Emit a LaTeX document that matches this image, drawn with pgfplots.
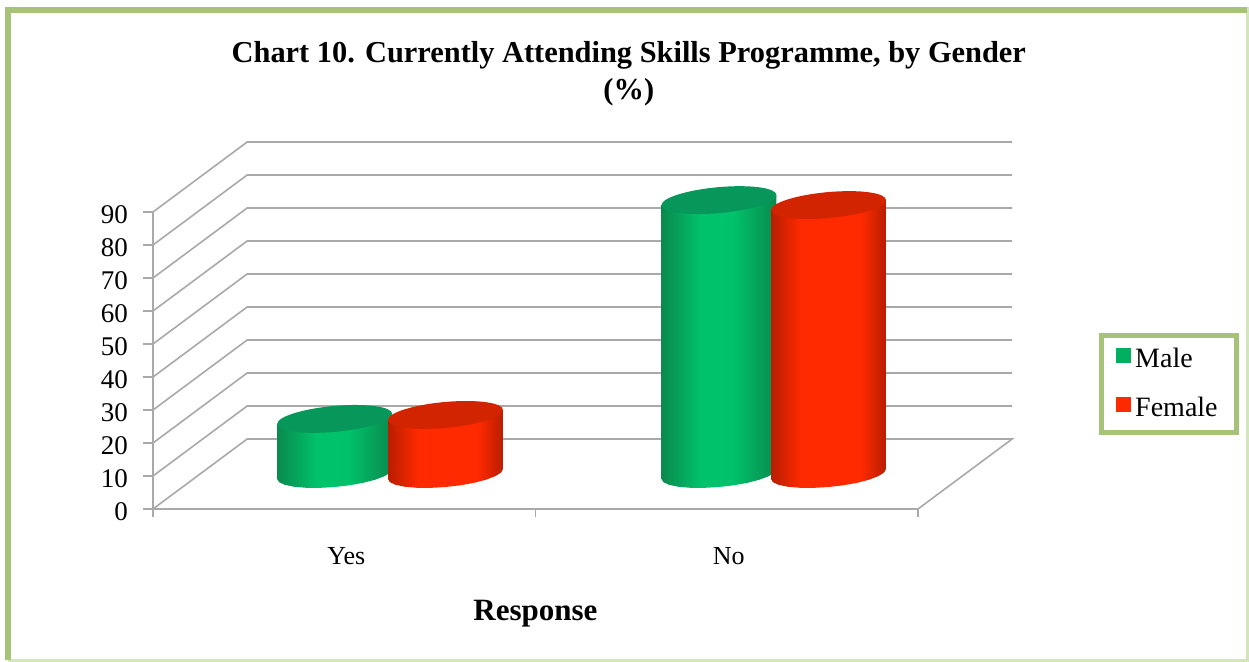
\documentclass[border=0pt]{standalone}
\usepackage{fontspec}
\setmainfont{Liberation Serif}
\usepackage{pgfplots}
\usepackage{pgfplotstable}
\pgfplotsset{compat=1.18}
\definecolor{frameG}{HTML}{A6C377}
\definecolor{frameL}{HTML}{D3E5BC}
\definecolor{gridG}{HTML}{A9A9A9}
\definecolor{gEdge}{HTML}{0A8A4E}
\definecolor{gMid}{HTML}{00C26A}
\definecolor{gTop}{HTML}{07975A}
\definecolor{rEdge}{HTML}{B81E00}
\definecolor{rMid}{HTML}{FF2A00}
\definecolor{rTop}{HTML}{D22400}
\pgfdeclarehorizontalshading{greencyl}{100bp}{color(0bp)=(gEdge);color(25bp)=(gEdge);color(42bp)=(gMid);color(56bp)=(gMid);color(75bp)=(gEdge);color(100bp)=(gEdge)}
\pgfdeclarehorizontalshading{redcyl}{100bp}{color(0bp)=(rEdge);color(25bp)=(rEdge);color(38bp)=(rMid);color(64bp)=(rMid);color(75bp)=(rEdge);color(100bp)=(rEdge)}
\newcommand{\cylell}{\pgfpathellipse{\pgfpointorigin}{\pgfqpoint{28.75pt}{2.5pt}}{\pgfqpoint{0pt}{6.5pt}}}
\pgfdeclareplotmark{gtop}{\cylell\pgfsetfillcolor{gTop}\pgfusepath{fill}}
\pgfdeclareplotmark{rtop}{\cylell\pgfsetfillcolor{rTop}\pgfusepath{fill}}
% outline of a cylinder body: h=1 rows rise with the bar's value
\pgfplotstableread{
dx dy h
-0.1503 -1.515 1
-0.1503 -1.515 0
-0.1452 -2.483 0
-0.1302 -3.282 0
-0.1063 -3.857 0
-0.0752 -4.170 0
-0.0389 -4.198 0
0 -3.940 0
0.0389 -3.414 0
0.0752 -2.654 0
0.1063 -1.715 0
0.1302 -0.658 0
0.1452 0.443 0
0.1503 1.515 0
0.1503 1.515 1
}\cylbody
\begin{document}
\begin{tikzpicture}
\useasboundingbox (0,0) rectangle (624.5pt,331pt);
\fill[white] (0,0) rectangle (624.5pt,331pt);
\draw[frameL,line width=1.2pt] (623.7pt,327.5pt) -- (623.7pt,0.8pt) -- (4pt,0.8pt);
\draw[frameG,line width=3pt] (4pt,0.8pt) -- (4pt,326pt) -- (623.7pt,326pt);
\begin{axis}[
  at={(76.5pt,76.5pt)}, anchor=south west,
  scale only axis, width=382.5pt, height=148.5pt,
  xmin=-0.5, xmax=1.5, ymin=0, ymax=90,
  clip=false,
  axis x line=bottom, axis y line=left,
  axis line style={-,gridG,line width=0.9pt},
  tick align=outside,
  xtick={0,1}, xticklabels={Yes,No},
  minor xtick={-0.5,0.5,1.5},
  ytick={0,10,...,90},
  major x tick style={draw=none},
  major tick length=5pt, minor tick length=4pt,
  every tick/.append style={gridG,line width=0.8pt},
  /pgf/number format/assume math mode=true,
  x tick label style={font=\fontsize{13}{15}\selectfont, yshift=-10.5pt, xshift=1pt},
  y tick label style={font=\fontsize{13.5}{15}\selectfont, xshift=-4pt, yshift=-1.5pt},
  xlabel={Response},
  xlabel style={font=\fontsize{15.5}{18}\selectfont\bfseries, at={(0.5,-0.352)}, anchor=center},
  title={Chart 10. Currently Attending Skills Programme, by Gender\\(\%)},
  title style={font=\fontsize{15.2}{18.5}\selectfont\bfseries, align=center, at={(0.622,1.426)}, anchor=center},
  legend cell align=left,
  legend style={at={(1.328,0.421)}, anchor=center, draw=frameG, line width=2.5pt,
    font=\fontsize{14}{16}\selectfont, inner xsep=7.5pt, inner ysep=4.5pt, row sep=9pt, fill=white,
    nodes={yshift=-2pt}},
  legend image code/.code={\fill[#1,draw=none] (0pt,-3.75pt) rectangle (7.5pt,3.75pt);},
]
% back wall and side wall grid lines
\addplot[forget plot,gridG,line width=0.8pt] coordinates {(-0.5,0)(-0.254,21.2)(1.746,21.2)(1.5,0)};
\addplot[forget plot,gridG,line width=0.8pt] coordinates {(-0.5,10)(-0.254,31.2)(1.746,31.2)};
\addplot[forget plot,gridG,line width=0.8pt] coordinates {(-0.5,20)(-0.254,41.2)(1.746,41.2)};
\addplot[forget plot,gridG,line width=0.8pt] coordinates {(-0.5,30)(-0.254,51.2)(1.746,51.2)};
\addplot[forget plot,gridG,line width=0.8pt] coordinates {(-0.5,40)(-0.254,61.2)(1.746,61.2)};
\addplot[forget plot,gridG,line width=0.8pt] coordinates {(-0.5,50)(-0.254,71.2)(1.746,71.2)};
\addplot[forget plot,gridG,line width=0.8pt] coordinates {(-0.5,60)(-0.254,81.2)(1.746,81.2)};
\addplot[forget plot,gridG,line width=0.8pt] coordinates {(-0.5,70)(-0.254,91.2)(1.746,91.2)};
\addplot[forget plot,gridG,line width=0.8pt] coordinates {(-0.5,80)(-0.254,101.2)(1.746,101.2)};
\addplot[forget plot,gridG,line width=0.8pt] coordinates {(-0.5,90)(-0.254,111.2)(1.746,111.2)};
% Yes, Male (16.7)
\addplot[forget plot,draw=none,shading=greencyl] table[x expr=\thisrow{dx}-0.025, y expr=10.6+\thisrow{dy}+\thisrow{h}*16.7] {\cylbody} --cycle;
\addplot[forget plot,only marks,mark=gtop] coordinates {(-0.025,27.3)};
% Yes, Female (17.9)
\addplot[forget plot,draw=none,shading=redcyl] table[x expr=\thisrow{dx}+0.2647, y expr=10.6+\thisrow{dy}+\thisrow{h}*17.9] {\cylbody} --cycle;
\addplot[forget plot,only marks,mark=rtop] coordinates {(0.2647,28.5)};
% No, Male (83)
\addplot[forget plot,draw=none,shading=greencyl] table[x expr=\thisrow{dx}+0.9797, y expr=10.6+\thisrow{dy}+\thisrow{h}*83] {\cylbody} --cycle;
\addplot[forget plot,only marks,mark=gtop] coordinates {(0.9797,93.6)};
% No, Female (81.5)
\addplot[forget plot,draw=none,shading=redcyl] table[x expr=\thisrow{dx}+1.266, y expr=10.6+\thisrow{dy}+\thisrow{h}*81.5] {\cylbody} --cycle;
\addplot[forget plot,only marks,mark=rtop] coordinates {(1.266,92.1)};
\addlegendimage{color=gMid!90!black}
\addlegendentry{Male}
\addlegendimage{color=rMid}
\addlegendentry{Female}
\end{axis}
\end{tikzpicture}
\end{document}
